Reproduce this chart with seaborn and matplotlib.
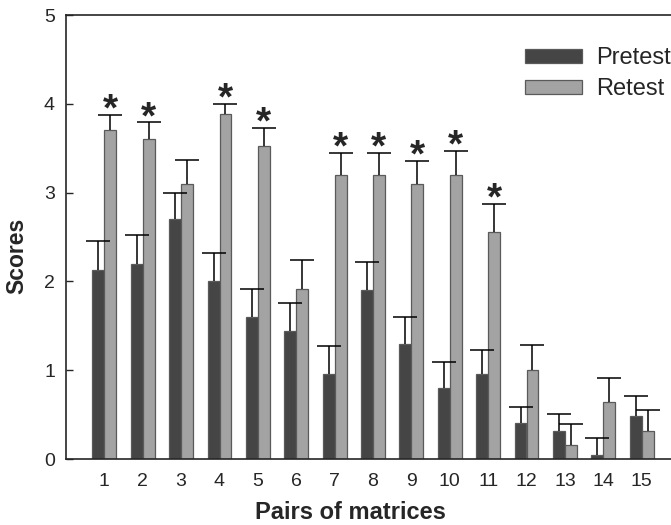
import matplotlib
matplotlib.use("Agg")
import matplotlib.pyplot as plt
import seaborn as sns
import pandas as pd
import numpy as np

# data
pairs = [str(i) for i in range(1, 16)]
pretest = [2.13, 2.20, 2.70, 2.00, 1.60, 1.44, 0.96, 1.90, 1.30, 0.80, 0.96, 0.40, 0.32, 0.05, 0.48]
pretest_err = [0.33, 0.32, 0.30, 0.32, 0.32, 0.32, 0.31, 0.32, 0.30, 0.29, 0.27, 0.19, 0.19, 0.19, 0.23]
retest = [3.70, 3.60, 3.10, 3.89, 3.52, 1.92, 3.20, 3.20, 3.10, 3.20, 2.56, 1.00, 0.16, 0.64, 0.32]
retest_err = [0.17, 0.19, 0.27, 0.11, 0.21, 0.32, 0.25, 0.25, 0.26, 0.27, 0.31, 0.28, 0.23, 0.27, 0.23]
significant = [1, 2, 4, 5, 7, 8, 9, 10, 11]

groups = ['Pretest', 'Retest']
df = pd.DataFrame({
    'pair': pairs * 2,
    'group': ['Pretest'] * 15 + ['Retest'] * 15,
    'score': pretest + retest,
})

sns.set_style('ticks')
plt.rcParams['font.family'] = ['Liberation Sans', 'DejaVu Sans']

fig = plt.figure(figsize=(6.71, 5.25), dpi=100)
ax = fig.add_axes([66 / 671, 1 - 459 / 525, 614 / 671, 444 / 525])

sns.barplot(data=df, x='pair', y='score', hue='group', order=pairs, hue_order=groups,
            palette={'Pretest': '#454545', 'Retest': '#a3a3a3'},
            width=0.62, edgecolor='#5a5a5a', linewidth=0.9, errorbar=None,
            legend=False, ax=ax)

# one-sided error bars + significance stars
bars = list(ax.containers)
errs = [pretest_err, retest_err]
for k, cont in enumerate(bars):
    xs = np.array([p.get_x() + p.get_width() / 2 for p in cont.patches])
    hs = np.array([p.get_height() for p in cont.patches])
    e = np.array(errs[k])
    eb = ax.errorbar(xs, hs, yerr=[np.zeros_like(e), e], fmt='none', ecolor='black',
                     elinewidth=1.1, capsize=8.5, capthick=1.1, zorder=1)
    eb[1][0].set_visible(False)  # drop the lower caps
    if groups[k] == 'Retest':
        for i in significant:
            ax.annotate('*', (xs[i - 1], hs[i - 1] + e[i - 1]), xytext=(0, -4),
                        textcoords='offset points', ha='center', va='baseline',
                        fontsize=28, fontweight='bold')

ax.set_xlim(-1, 15)
ax.set_ylim(0, 5)
ax.set_yticks([0, 1, 2, 3, 4, 5])
ax.tick_params(axis='y', direction='in', length=5, width=1, pad=8, labelsize=14)
ax.tick_params(axis='x', length=0, pad=10, labelsize=14)
for s in ax.spines.values():
    s.set_linewidth(1.2)

ax.set_xlabel('Pairs of matrices', fontsize=17, fontweight='bold')
ax.set_ylabel('Scores', fontsize=16.5, fontweight='bold')
ax.xaxis.set_label_coords(0.4625, -0.0937)
ax.yaxis.set_label_coords(-0.0619, 0.458)

ax.legend(handles=bars, labels=groups, loc='upper left',
          bbox_to_anchor=(525 / 671, 1 - 47 / 525), bbox_transform=fig.transFigure,
          frameon=False, fontsize=17, handlelength=2.4, handleheight=0.55,
          handletextpad=0.6, labelspacing=0.38, borderpad=0, borderaxespad=0)

fig.savefig('out.png', dpi=100)
